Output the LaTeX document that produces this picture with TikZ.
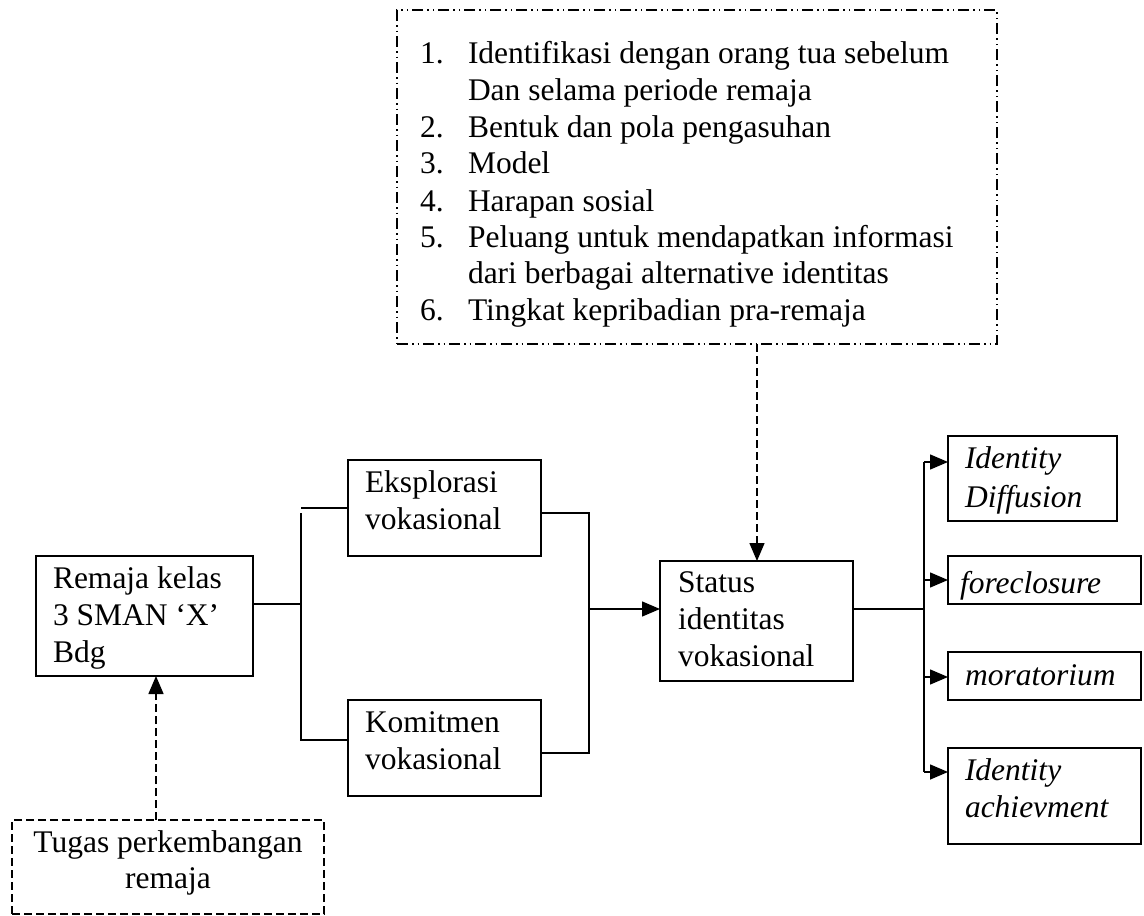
\documentclass[tikz,border=0pt]{standalone}
\usepackage{fontspec}
\setmainfont{Liberation Serif}
\usetikzlibrary{arrows.meta}
\newcommand\fs{\fontsize{31.5}{36.6}\selectfont}
\tikzset{
  box/.style={draw, line width=1.5pt, inner sep=0pt, outer sep=0pt, anchor=north west},
  txt/.style={anchor=base west, inner sep=0pt, outer sep=0pt, font=\fs},
  itxt/.style={txt, font=\fs\itshape},
  conn/.style={line width=1.5pt},
  arr/.style={conn, -{Triangle[length=18pt,width=15pt]}},
  dsh/.style={dash pattern=on 8pt off 4pt},
  ddot/.style={dash pattern=on 11pt off 4pt on 1.5pt off 4pt on 1.5pt off 4pt},
}
\begin{document}
\begin{tikzpicture}[x=1pt,y=-1pt]
\useasboundingbox (0,0) rectangle (1144,916);
% boxes
\node[box, ddot, minimum width=600pt, minimum height=334pt] (top) at (397,10) {};
\node[box, minimum width=217pt, minimum height=120pt] (rem) at (36,556) {};
\node[box, minimum width=193pt, minimum height=96pt] (eks) at (348,460) {};
\node[box, minimum width=193pt, minimum height=96pt] (kom) at (348,700) {};
\node[box, minimum width=193pt, minimum height=120pt] (stat) at (660,561) {};
\node[box, minimum width=169pt, minimum height=85pt] (idd) at (948,436) {};
\node[box, minimum width=193pt, minimum height=48pt] (fore) at (948,556) {};
\node[box, minimum width=193pt, minimum height=48pt] (mor) at (948,652) {};
\node[box, minimum width=193pt, minimum height=96pt] (ida) at (948,748) {};
\node[box, dsh, minimum width=312pt, minimum height=94pt] (tug) at (12,820) {};
% list text
\node[txt] (n1) at (420,63) {1.};
\node[txt] (t1) at (468,63) {Identifikasi dengan orang tua sebelum};
\node[txt] (t1b) at (468,100) {Dan selama periode remaja};
\node[txt] (n2) at (420,137) {2.};
\node[txt] (t2) at (468,137) {Bentuk dan pola pengasuhan};
\node[txt] (n3) at (420,173) {3.};
\node[txt] (t3) at (468,173) {Model};
\node[txt] (n4) at (420,211) {4.};
\node[txt] (t4) at (468,211) {Harapan sosial};
\node[txt] (n5) at (420,247) {5.};
\node[txt] (t5) at (468,247) {Peluang untuk mendapatkan informasi};
\node[txt] (t5b) at (468,283) {dari berbagai alternative identitas};
\node[txt] (n6) at (420,320) {6.};
\node[txt] (t6) at (468,320) {Tingkat kepribadian pra-remaja};
% box texts
\node[txt] (r1) at (53,588) {Remaja kelas};
\node[txt] (r2) at (53,625) {3 SMAN ‘X’};
\node[txt] (r3) at (53,662) {Bdg};
\node[txt] (e1) at (365,492) {Eksplorasi};
\node[txt] (e2) at (365,529) {vokasional};
\node[txt] (k1) at (365,732) {Komitmen};
\node[txt] (k2) at (365,769) {vokasional};
\node[txt] (s1) at (678,592) {Status};
\node[txt] (s2t) at (678,629) {identitas};
\node[txt] (s3) at (678,666) {vokasional};
\node[itxt] (i1) at (965,468) {Identity};
\node[itxt] (i2) at (965,507) {Diffusion};
\node[itxt] (f1) at (960,593) {foreclosure};
\node[itxt] (m1) at (965,685) {moratorium};
\node[itxt] (a1) at (965,780) {Identity};
\node[itxt] (a2) at (965,817) {achievment};
\node[font=\fs, anchor=base, inner sep=0pt] (g1) at (168,852) {Tugas perkembangan};
\node[font=\fs, anchor=base, inner sep=0pt] (g2) at (168,888) {remaja};
% coordinates
\coordinate (lb) at (302,604);
\coordinate (lbt) at (301,508);
\coordinate (lbt2) at (301,513);
\coordinate (lbb) at (301,740);
\coordinate (rbt) at (589,513);
\coordinate (rbb) at (589,753);
\coordinate (rbm) at (589,609);
\coordinate (sb) at (924,609);
\coordinate (sbt) at (924,462);
\coordinate (sb2) at (924,580);
\coordinate (sb3) at (924,677);
\coordinate (sbb) at (924,772);
\coordinate (ds) at (757,0);
\coordinate (us) at (156,0);
% connectors
\draw[conn] (rem.east |- lb) -- (lb);
\draw[conn] (lbt) -- (eks.west |- lbt);
\draw[conn] (lbt2) -- (lbb) -- (kom.west |- lbb);
\draw[conn] (eks.east |- rbt) -- (rbt) -- (rbb) -- (kom.east |- rbb);
\draw[arr] (rbm) -- (stat.west |- rbm);
\draw[conn] (stat.east |- sb) -- (sb);
\draw[conn] (sbt) -- (sbb);
\draw[arr] (sbt) -- (idd.west |- sbt);
\draw[arr] (sb2) -- (fore.west |- sb2);
\draw[arr] (sb3) -- (mor.west |- sb3);
\draw[arr] (sbb) -- (ida.west |- sbb);
\draw[arr, dsh] (top.south -| ds) -- (stat.north -| ds);
\draw[arr, dsh] (tug.north -| us) -- (rem.south -| us);
\end{tikzpicture}
\end{document}
